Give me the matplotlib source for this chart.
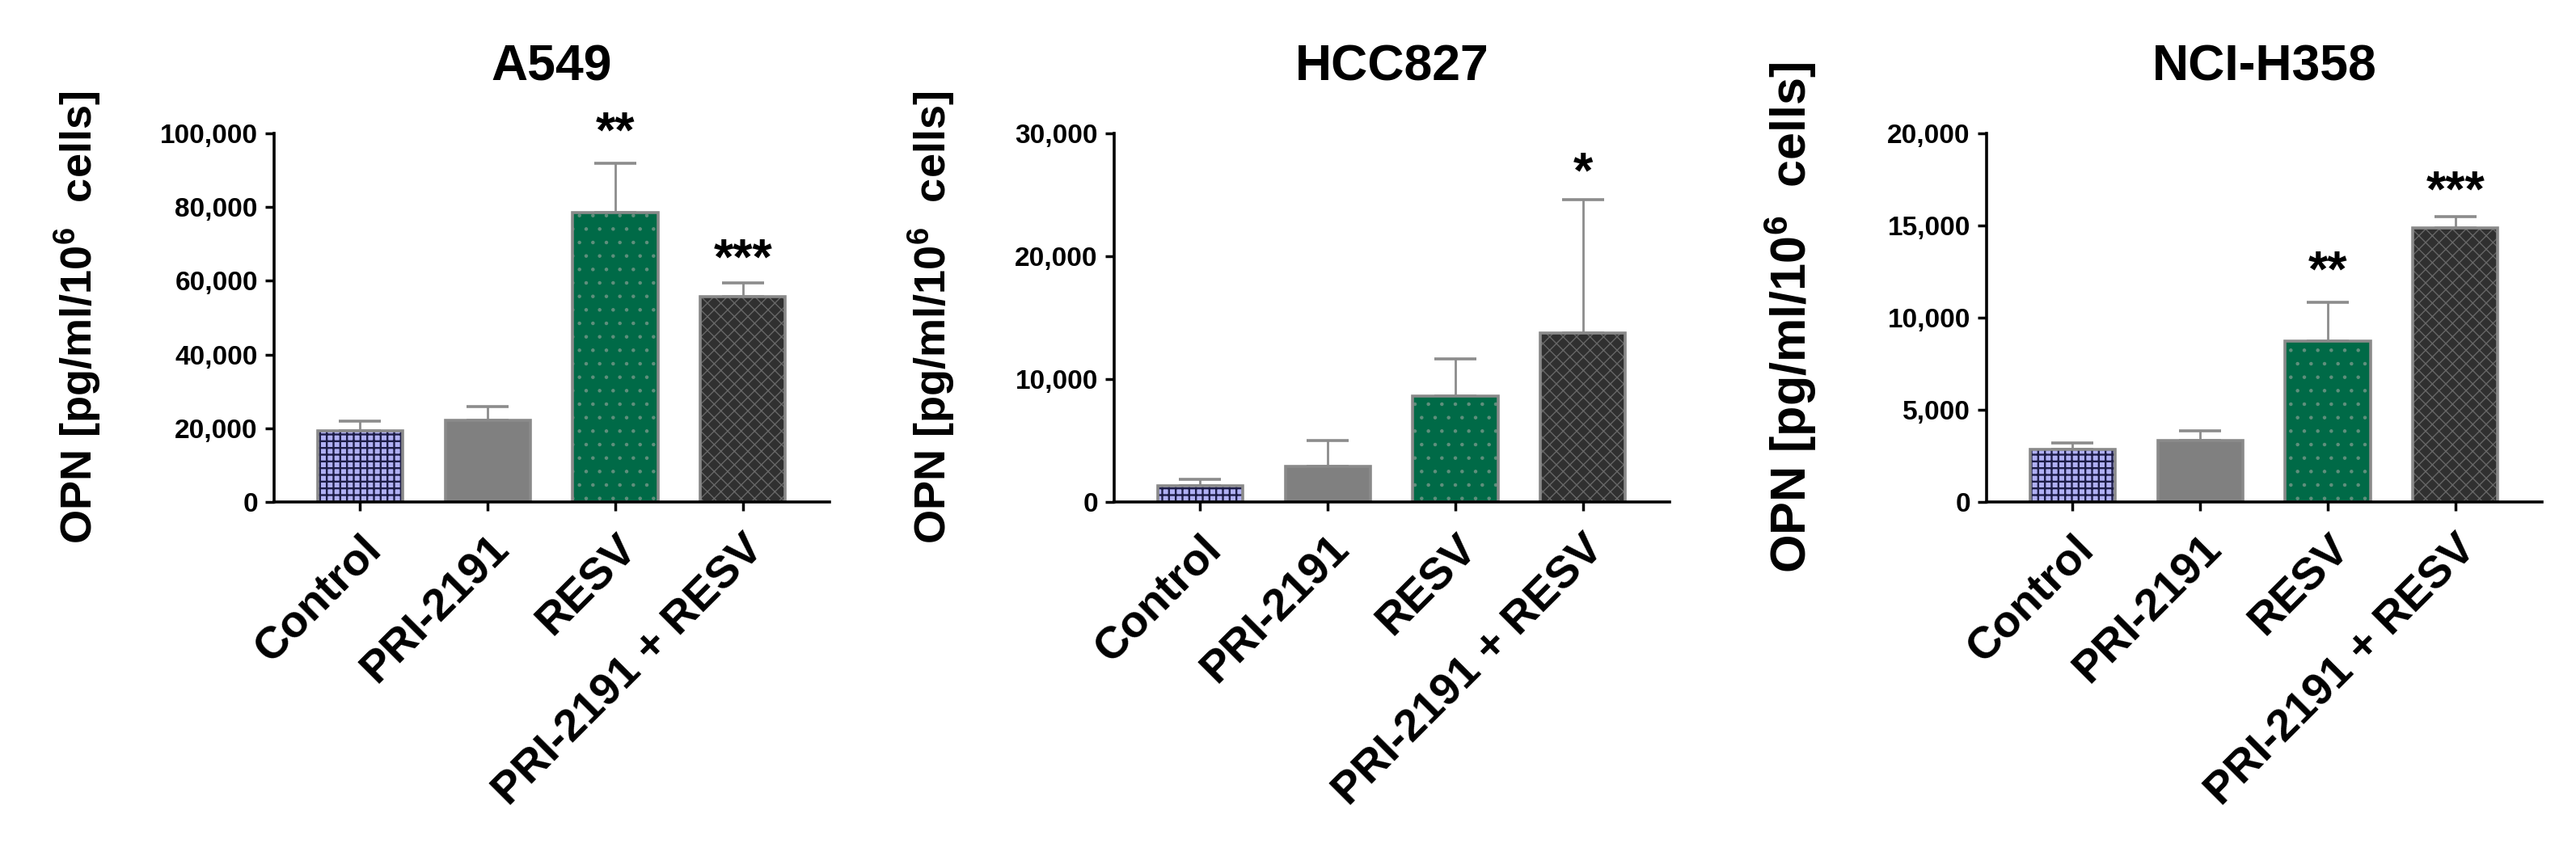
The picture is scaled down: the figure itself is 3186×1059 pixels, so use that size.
import numpy as np
import matplotlib
matplotlib.use("Agg")
import matplotlib.pyplot as plt
from matplotlib.transforms import ScaledTranslation

# ---------------- data ----------------
categories = ["Control", "PRI-2191", "RESV", "PRI-2191 + RESV"]
panel_titles = ["A549", "HCC827", "NCI-H358"]

a549_mean = [19300, 22200, 78400, 55700]
a549_sd = [2600, 3600, 13500, 3800]
hcc827_mean = [1300, 2900, 8600, 13750]
hcc827_sd = [530, 2120, 3070, 10850]
h358_mean = [2860, 3350, 8740, 14860]
h358_sd = [355, 490, 2110, 630]

y_max = [100000, 30000, 20000]
y_step = [20000, 10000, 5000]

a549_stars = ["", "", "**", "***"]
a549_star_y = [0, 0, 104400, 70000]
hcc827_stars = ["", "", "", "*"]
hcc827_star_y = [0, 0, 0, 28000]
h358_stars = ["", "", "**", "***"]
h358_star_y = [0, 0, 13330, 17700]

ylabel_text = r"OPN [pg/ml/10$^{6}$  cells]"

# ---------------- style ----------------
plt.rcParams["font.family"] = ["Liberation Sans", "DejaVu Sans"]
plt.rcParams["font.weight"] = "bold"
plt.rcParams["mathtext.fontset"] = "custom"
plt.rcParams["mathtext.rm"] = "Liberation Sans:bold"
plt.rcParams["mathtext.bf"] = "Liberation Sans:bold"
plt.rcParams["mathtext.it"] = "Liberation Sans:bold"

face_cols = ["#b0b0f4", "#808080", "#006a47", "#303030"]
hatch_cols = ["#1e1e48", "#808080", "#5f8f7c", "#676767"]
hatches = ["++", "", ".", "xx"]
hatch_lw = [1.7, 1.0, 0.8, 1.0]
edge_col = "#8a8a8a"
err_col = "#8c8c8c"

W, H = 3186, 1059
fig = plt.figure(figsize=(W / 100, H / 100), dpi=100)

axis_left_px = [339, 1378, 2457]
ax_w_px = 687
bottom_px, top_px = 621, 165
ylabel_x_px = [96, 1152, 2214]
ylabel_size = [39, 39, 44]

means = [a549_mean, hcc827_mean, h358_mean]
sds = [a549_sd, hcc827_sd, h358_sd]
stars = [a549_stars, hcc827_stars, h358_stars]
star_ys = [a549_star_y, hcc827_star_y, h358_star_y]

x = np.arange(len(categories))
bar_w = 0.667

for p in range(3):
    ax = fig.add_axes([axis_left_px[p] / W, (H - bottom_px) / H,
                       ax_w_px / W, (bottom_px - top_px) / H])
    m = means[p]
    s = sds[p]
    for i in range(len(categories)):
        with plt.rc_context({"hatch.linewidth": hatch_lw[i]}):
            ax.bar(x[i], m[i], width=bar_w, color=face_cols[i],
                   edgecolor=hatch_cols[i], linewidth=0,
                   hatch=hatches[i] if hatches[i] else None, zorder=3)
        ax.bar(x[i], m[i], width=bar_w, fill=False, edgecolor=edge_col,
               linewidth=2.6, zorder=4)
    ax.errorbar(x, m, yerr=[np.zeros(len(m)), s], fmt="none", ecolor=err_col,
                elinewidth=2.0, capsize=19, capthick=2.6, zorder=2, clip_on=False)

    ax.set_xlim(-0.675, 3.68)
    ax.set_ylim(0, y_max[p])
    ticks = np.arange(0, y_max[p] + 1, y_step[p])
    ax.set_yticks(ticks)
    ax.set_yticklabels([f"{int(t):,}" for t in ticks], fontsize=24, fontweight="bold")
    ax.set_xticks(x)
    ax.set_xticklabels(categories, fontsize=40, fontweight="bold", rotation=45,
                       ha="right", va="top", rotation_mode="anchor")
    off = ScaledTranslation(0.10, 0, fig.dpi_scale_trans)
    for lab in ax.get_xticklabels():
        lab.set_transform(lab.get_transform() + off)

    for side in ("top", "right"):
        ax.spines[side].set_visible(False)
    for side in ("left", "bottom"):
        ax.spines[side].set_linewidth(2.6)
        ax.spines[side].set_color("black")
        ax.spines[side].set_zorder(6)
    ax.tick_params(axis="y", direction="out", length=8, width=2.5, pad=6.5, colors="black")
    ax.tick_params(axis="x", direction="out", length=8, width=2.5, pad=15, colors="black")
    ax.set_facecolor("none")

    for i, st in enumerate(stars[p]):
        if st:
            ax.annotate(st, xy=(x[i], star_ys[p][i]), xytext=(0, -0.585 * 45),
                        textcoords="offset points", ha="center", va="baseline",
                        fontsize=45, fontweight="bold", annotation_clip=False)

    cx = (axis_left_px[p] + ax_w_px / 2) / W
    fig.text(cx, (H - 100) / H, panel_titles[p], ha="center", va="baseline",
             fontsize=45, fontweight="bold")
    fig.text(ylabel_x_px[p] / W, (H - 393) / H, ylabel_text, rotation=90,
             ha="center", va="center", fontsize=ylabel_size[p], fontweight="bold")

fig.savefig("out.png", dpi=100, facecolor="white")
